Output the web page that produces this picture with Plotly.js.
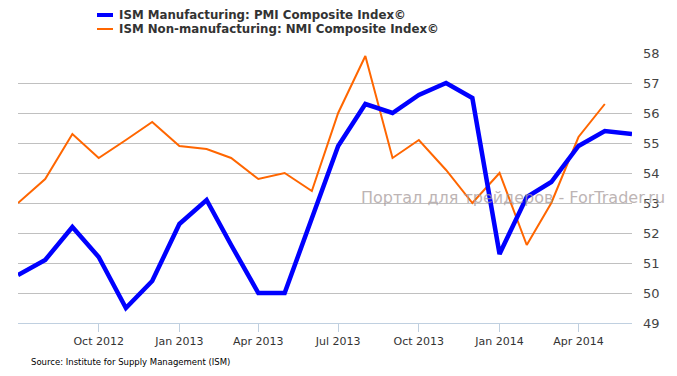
<!DOCTYPE html>
<html>
<head>
<meta charset="utf-8">
<script src="https://cdn.plot.ly/plotly-3.0.1.min.js"></script>
<style>html,body{margin:0;padding:0;background:#fff}#chart{width:677px;height:376px}</style>
</head>
<body>
<div id="chart"></div>
<script>
const months = ["2012-07-01","2012-08-01","2012-09-01","2012-10-01","2012-11-01","2012-12-01",
  "2013-01-01","2013-02-01","2013-03-01","2013-04-01","2013-05-01","2013-06-01",
  "2013-07-01","2013-08-01","2013-09-01","2013-10-01","2013-11-01","2013-12-01",
  "2014-01-01","2014-02-01","2014-03-01","2014-04-01","2014-05-01","2014-06-01"];
const pmi = [50.6,51.1,52.2,51.2,49.5,50.4,52.3,53.1,51.6,50.0,50.0,52.5,
  54.9,56.3,56.0,56.6,57.0,56.5,51.3,53.2,53.7,54.9,55.4,55.3];
const nmiMonths = months.slice(0,23);
const nmi = [53.0,53.8,55.3,54.5,55.1,55.7,54.9,54.8,54.5,53.8,54.0,53.4,
  56.0,57.9,54.5,55.1,54.1,53.0,54.0,51.6,53.0,55.2,56.3];
const tickDates = ["2012-10-01","2013-01-01","2013-04-01","2013-07-01","2013-10-01","2014-01-01","2014-04-01"];
const tickLabels = ["Oct 2012","Jan 2013","Apr 2013","Jul 2013","Oct 2013","Jan 2014","Apr 2014"];
const seriesNames = ["ISM Manufacturing: PMI Composite Index©","ISM Non-manufacturing: NMI Composite Index©"];
const sourceText = "Source: Institute for Supply Management (ISM)";
const watermark = "Портал для трейдеров - ForTrader.ru";

const W=677,H=376,L=18,R=45,T=53,B=53;
const px = x => (x-L)/(W-L-R);
const py = y => (H-B-y)/(H-T-B);

const traces = [
  {x: nmiMonths, y: nmi, type:'scatter', mode:'lines', name: seriesNames[1],
   line:{color:'#ff6600', width:2}, hoverinfo:'skip'},
  {x: months, y: pmi, type:'scatter', mode:'lines', name: seriesNames[0],
   line:{color:'#0000ff', width:4.5}, hoverinfo:'skip'}
];

const layout = {
  width:W, height:H,
  margin:{l:L, r:R, t:T, b:B},
  paper_bgcolor:'#fff', plot_bgcolor:'#fff',
  showlegend:false,
  font:{family:'DejaVu Sans, Verdana, sans-serif', color:'#333'},
  xaxis:{type:'date', range:['2012-07-01','2014-06-01'],
    tickmode:'array', tickvals:tickDates, ticktext:tickLabels,
    showgrid:false, zeroline:false,
    showline:true, linecolor:'#c0d0e0', linewidth:1,
    ticks:'outside', ticklen:8, tickcolor:'#c0d0e0', tickwidth:1,
    tickfont:{size:11, color:'#333'}},
  yaxis:{range:[49,58], dtick:1, side:'right',
    showgrid:true, gridcolor:'#c0c0c0', gridwidth:1, zeroline:false,
    showline:false, ticks:'', ticklabelstandoff:10,
    tickfont:{size:13, color:'#444'}},
  shapes:[
    {type:'line', xref:'paper', yref:'paper', x0:px(97), x1:px(113), y0:py(15), y1:py(15),
     line:{color:'#0000ff', width:4}},
    {type:'line', xref:'paper', yref:'paper', x0:px(97), x1:px(113), y0:py(29), y1:py(29),
     line:{color:'#ff6600', width:2}}
  ],
  annotations:[
    {xref:'paper', yref:'paper', x:px(117), y:py(15), xanchor:'left', yanchor:'middle',
     text:'<b>'+seriesNames[0]+'</b>', showarrow:false, font:{size:11.8, color:'#333'}},
    {xref:'paper', yref:'paper', x:px(117), y:py(29), xanchor:'left', yanchor:'middle',
     text:'<b>'+seriesNames[1]+'</b>', showarrow:false, font:{size:11.8, color:'#333'}},
    {xref:'paper', yref:'paper', x:px(29), y:py(362), xanchor:'left', yanchor:'middle',
     text:sourceText, showarrow:false, font:{size:8.5, color:'#000', family:'DejaVu Sans, sans-serif'}},
    {xref:'paper', yref:'paper', x:px(359), y:py(198), xanchor:'left', yanchor:'middle',
     text:watermark, showarrow:false, opacity:0.75,
     font:{size:16, color:'#a89c9c', family:'DejaVu Sans, Verdana, sans-serif'}}
  ]
};

Plotly.newPlot('chart', traces, layout, {displayModeBar:false, staticPlot:true});
</script>
</body>
</html>
